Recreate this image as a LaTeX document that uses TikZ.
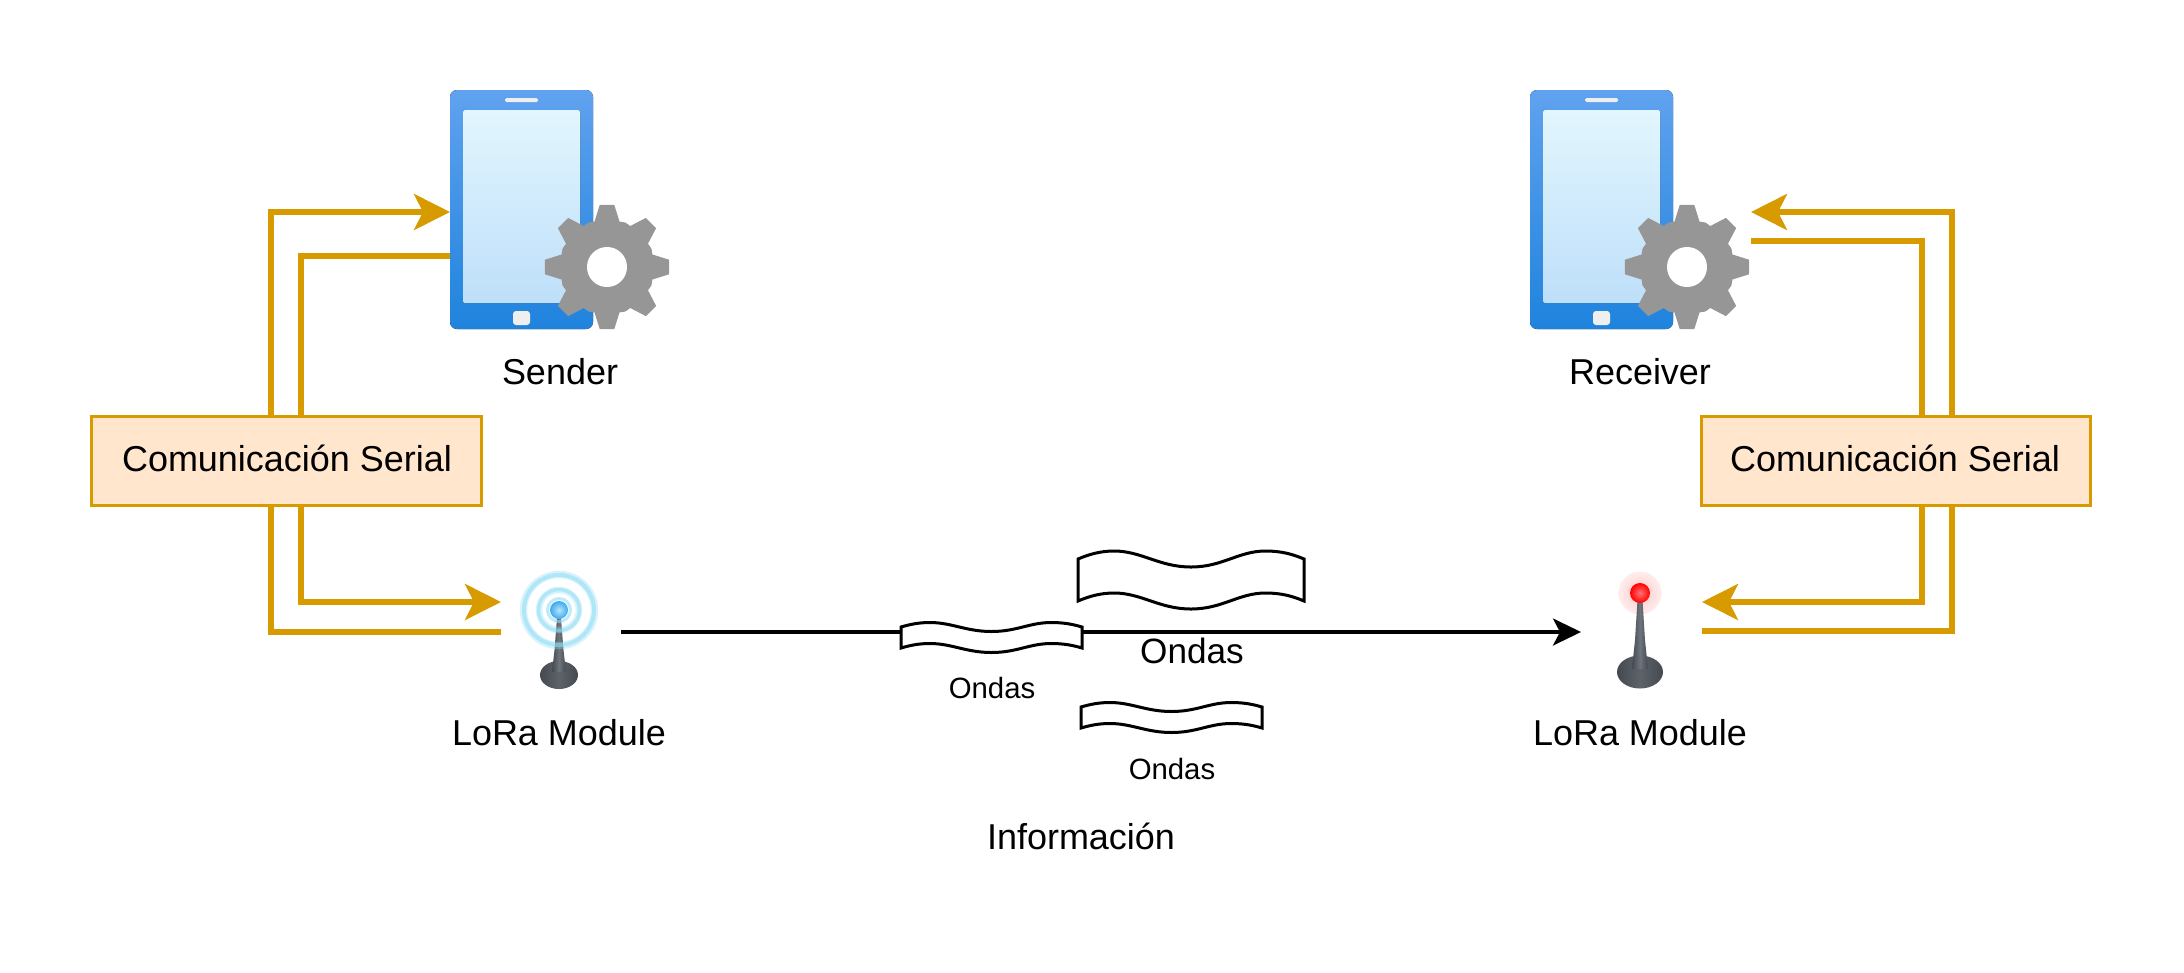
\documentclass[tikz,border=0pt]{standalone}
\usepackage{fontspec}
\setmainfont{Liberation Sans}
\usetikzlibrary{arrows.meta,calc}
\definecolor{serialc}{HTML}{D79B00}
\definecolor{serialf}{HTML}{FFE6CC}
\definecolor{phonetop}{HTML}{60A2EF}
\definecolor{phonebot}{HTML}{1F83DD}
\definecolor{screentop}{HTML}{E2F6FD}
\definecolor{screenbot}{HTML}{BEDFFA}
\definecolor{gearc}{HTML}{969696}
\definecolor{btn}{HTML}{EFEFEF}
\definecolor{ringc}{HTML}{8FDDF5}
\definecolor{ballin}{HTML}{B5E6FB}
\definecolor{ballout}{HTML}{3FA9EE}
\definecolor{towerd}{HTML}{454A51}
\definecolor{towerl}{HTML}{6E747C}
\newcommand{\fsA}{\fontsize{10.23pt}{12pt}\selectfont}
\newcommand{\fsB}{\fontsize{10pt}{12pt}\selectfont}
\newcommand{\fsC}{\fontsize{8.35pt}{10pt}\selectfont}
\tikzset{
  x=0.01cm,y=-0.01cm,
  lbl/.style={inner sep=0pt,text=black,font=\fsA},
  serialbox/.style={draw=serialc,fill=serialf,line width=0.03cm,minimum width=3.89cm,minimum height=0.88cm,inner sep=0pt,font=\fsA},
  serline/.style={draw=serialc,line width=0.053cm},
  serarrow/.style={serline,-{Stealth[length=0.36cm,width=0.36cm,inset=0.09cm]}},
  blackarrow/.style={draw=black,line width=0.033cm,-{Stealth[length=0.28cm,width=0.27cm,inset=0.07cm]}},
  wavebox/.style={draw=black,line width=0.03cm,fill=white,line join=miter},
  iconbox/.style={minimum width=1.43cm,minimum height=2.39cm,inner sep=0pt},
  antbox/.style={minimum width=0.8cm,minimum height=0.9cm,inner sep=0pt},
  pics/phone/.style={code={
    \fill[top color=phonetop,bottom color=phonebot,rounded corners=0.07cm] (0,0) rectangle (143,239);
    \fill[top color=screentop,bottom color=screenbot,rounded corners=0.015cm] (13,20) rectangle (130,213);
    \fill[btn,rounded corners=0.015cm] (55,8) rectangle (88,12);
    \fill[btn,rounded corners=0.03cm] (63,221) rectangle (80,235);
  }},
  pics/gear/.style={code={
    \fill[gearc,line join=round,draw=gearc,line width=0.012cm]
      ({90-15}:46.5)
      \foreach \a in {0,45,...,315}{
        -- ({\a+90-15}:46.5) -- ({\a+90-6.3}:62) -- ({\a+90+6.3}:62) -- ({\a+90+15}:46.5) -- ({\a+90+22.5}:47.5)
      } -- cycle;
    \fill[white] (0,0) circle[radius=0.2cm];
  }},
  pics/wave/.style n args={3}{code={
    \path[wavebox]
      (0,0) .. controls ({0.05*#1},{-0.6*#3}) and ({0.1*#1},{-#3}) .. ({0.16*#1},{-#3})
      .. controls ({0.28*#1},{-#3}) and ({0.36*#1},{#3}) .. ({0.5*#1},{#3})
      .. controls ({0.64*#1},{#3}) and ({0.71*#1},{-#3}) .. ({0.83*#1},{-#3})
      .. controls ({0.9*#1},{-#3}) and ({0.95*#1},{-0.6*#3}) .. (#1,0)
      -- (#1,#2)
      .. controls ({0.95*#1},{#2-0.6*#3}) and ({0.9*#1},{#2-#3}) .. ({0.83*#1},{#2-#3})
      .. controls ({0.71*#1},{#2-#3}) and ({0.64*#1},{#2+#3}) .. ({0.5*#1},{#2+#3})
      .. controls ({0.36*#1},{#2+#3}) and ({0.28*#1},{#2-#3}) .. ({0.16*#1},{#2-#3})
      .. controls ({0.1*#1},{#2-#3}) and ({0.05*#1},{#2-0.6*#3}) .. (0,#2)
      -- cycle;
  }},
}
\begin{document}
\begin{tikzpicture}
\useasboundingbox (0,0) rectangle (2184,972);
% named anchor points
\node[iconbox] (senderphone) at (521.5,209.5) {};
\node[iconbox] (receiverphone) at (1601.5,209.5) {};
\node[antbox] (antS) at (559,640) {};
\node[antbox] (antR) at (1640,640) {};
\coordinate (sIn) at (450,212);
\coordinate (sOut) at (450,256);
\coordinate (aIn) at (501,602);
\coordinate (aOut) at (501,632);
\coordinate (rIn) at (1751,212);
\coordinate (rOut) at (1751,241);
\coordinate (bIn) at (1702,602);
\coordinate (bOut) at (1702,631);
\coordinate (bFrom) at (621,632);
\coordinate (bTo) at (1581,632);
\coordinate (lA) at (271,416);
\coordinate (lB) at (301,416);
\coordinate (lC) at (301,506);
\coordinate (lD) at (271,506);
\coordinate (rA) at (1952,416);
\coordinate (rB) at (1922,416);
\coordinate (rC) at (1922,506);
\coordinate (rD) at (1952,506);
% phones
\pic at (450,90) {phone};
\pic at (1530,90) {phone};
\pic at (607,267) {gear};
\pic at (1687,267) {gear};
% connectors
\draw[serarrow] (lA) |- (sIn);
\draw[serline] (sOut) -| (lB);
\draw[serarrow] (lC) |- (aIn);
\draw[serline] (lD) |- (aOut);
\draw[serarrow] (rA) |- (rIn);
\draw[serline] (rOut) -| (rB);
\draw[serarrow] (rC) |- (bIn);
\draw[serline] (bOut) -| (rD);
\draw[blackarrow] (bFrom) -- (bTo);
% serial boxes
\node[serialbox] (boxL) at (286.5,461) {};
\node[lbl] at (287,458.5) {Comunicación Serial};
\node[serialbox] (boxR) at (1896,461) {};
\node[lbl] at (1895,458.5) {Comunicación Serial};
% antenna left
\begin{scope}
\shade[left color=towerd,right color=towerd,middle color=towerl!85!black] (559,675) ellipse[x radius=0.19cm,y radius=0.14cm];
\shade[left color=towerd,right color=towerd,middle color=towerl] (552,672) -- (554.5,650) -- (557,618) -- (561,618) -- (563.5,650) -- (566,672) -- cycle;
\draw[ringc,opacity=0.35,line width=0.075cm] (559,610) circle[radius=0.355cm];
\draw[ringc,opacity=0.55,line width=0.04cm] (559,610) circle[radius=0.35cm];
\draw[ringc,opacity=0.35,line width=0.065cm] (559,610) circle[radius=0.2cm];
\draw[ringc,opacity=0.55,line width=0.035cm] (559,610) circle[radius=0.205cm];
\draw[ringc,opacity=0.6,line width=0.03cm] (559,610) circle[radius=0.115cm];
\shade[inner color=ballin,outer color=ballout] (559,610) circle[radius=0.09cm];
\end{scope}
% antenna right
\begin{scope}
\shade[inner color=red!22,outer color=red!7] (1640,593) circle[radius=0.215cm];
\shade[left color=towerd,right color=towerd,middle color=towerl!85!black] (1640,672) ellipse[x radius=0.23cm,y radius=0.165cm];
\shade[left color=towerd,right color=towerd,middle color=towerl] (1632,669) -- (1635,640) -- (1637.5,600) -- (1642.5,600) -- (1645,640) -- (1648,669) -- cycle;
\shade[inner color=red!55!white,outer color=red] (1640,593) circle[radius=0.1cm];
\end{scope}
% waves
\pic at (1078,559) {wave={226}{42}{8}};
\pic at (901,627) {wave={181}{21}{4.5}};
\pic at (1081,707) {wave={181}{21}{4.5}};
% labels
\node[lbl] (tSender) at (560,372) {Sender};
\node[lbl] (tReceiver) at (1640,372) {Receiver};
\node[lbl] (tLoraS) at (559,733) {LoRa Module};
\node[lbl] (tLoraR) at (1640,733) {LoRa Module};
\node[lbl] (tInfo) at (1081,836) {Información};
\node[lbl,font=\fsB] (tOndasB) at (1192,651) {Ondas};
\node[lbl,font=\fsC] (tOndasA) at (992,688) {Ondas};
\node[lbl,font=\fsC] (tOndasC) at (1172,769) {Ondas};
\end{tikzpicture}
\end{document}
